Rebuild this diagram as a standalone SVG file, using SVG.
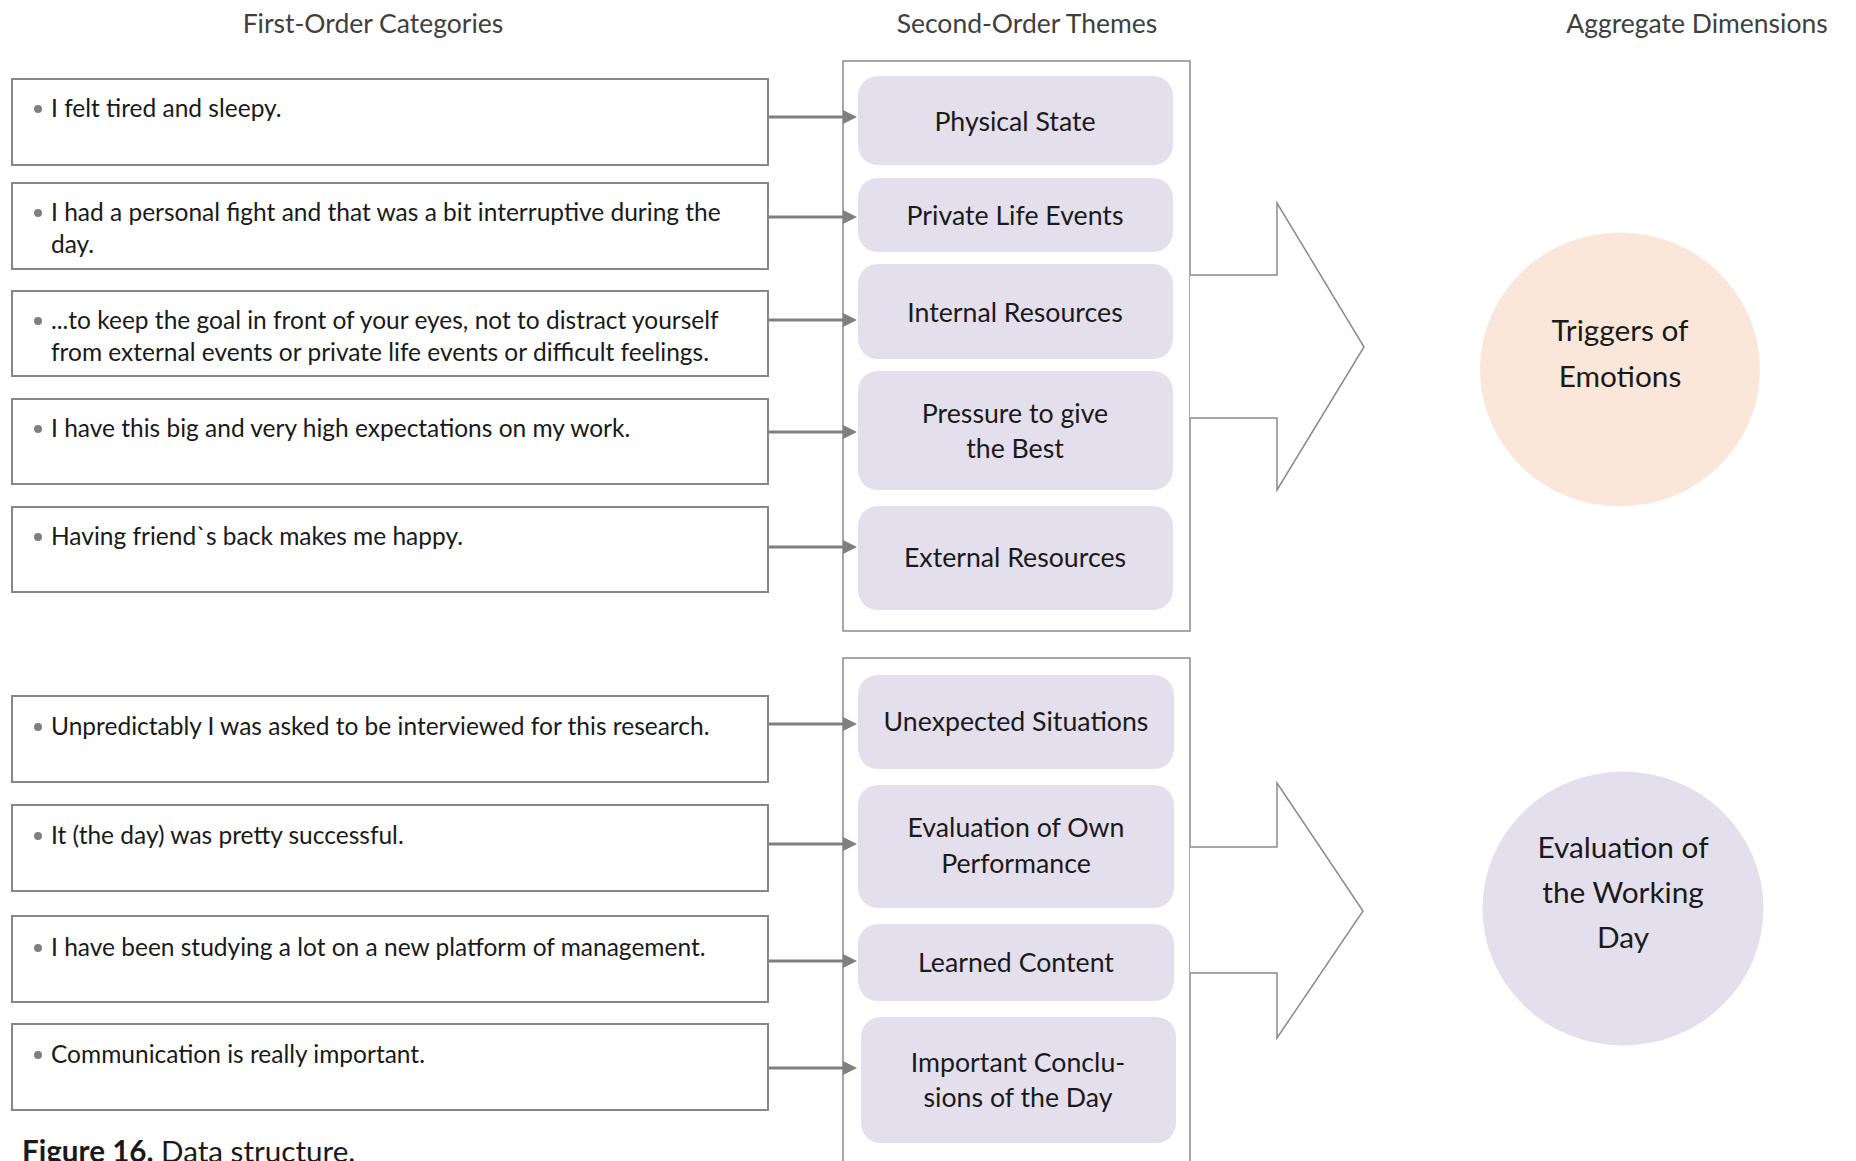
<svg xmlns="http://www.w3.org/2000/svg" width="1856" height="1161" viewBox="0 0 1856 1161">
<defs>
<style>
.t{font-family:Lato,"Open Sans","Liberation Sans",sans-serif;fill:#1a1a1a}
.hd{font-size:26.5px;fill:#404040;text-anchor:middle}
.q{font-size:24.5px}
.th{font-size:26.7px;text-anchor:middle}
.ci{font-size:29.8px;text-anchor:middle}
.box{fill:#fff;stroke:#878787;stroke-width:2}
.frame{fill:#fff;stroke:#8a8a8a;stroke-width:1.5}
.theme{fill:#e4dfec}
.bul{fill:#7f7f7f}
.conn{stroke:#7f7f7f;stroke-width:3;fill:none}
.big{fill:#fff;stroke:#8a8a8a;stroke-width:1.5}
</style>
<marker id="ah" markerUnits="userSpaceOnUse" markerWidth="14" markerHeight="14" refX="1" refY="7" orient="auto">
<path d="M0,0 L14,7 L0,14 z" fill="#7f7f7f"/>
</marker>
</defs>
<rect width="1856" height="1161" fill="#fff"/>

<g id="headers">
<text class="t hd" x="373" y="33">First-Order Categories</text>
<text class="t hd" x="1027" y="33">Second-Order Themes</text>
<text class="t hd" x="1697" y="33">Aggregate Dimensions</text>
</g>

<g id="frame1"><rect class="frame" x="843" y="61" width="347" height="570"/></g>
<g id="frame2"><rect class="frame" x="843" y="658" width="347" height="560"/></g>

<g id="q1"><rect class="box" x="12" y="79" width="756" height="86"/><circle class="bul" cx="38" cy="109" r="4"/><text class="t q" x="51" y="117">I felt tired and sleepy.</text></g>
<g id="q2"><rect class="box" x="12" y="183" width="756" height="86"/><circle class="bul" cx="38" cy="213" r="4"/><text class="t q" x="51" y="221">I had a personal fight and that was a bit interruptive during the</text><text class="t q" x="51" y="253">day.</text></g>
<g id="q3"><rect class="box" x="12" y="291" width="756" height="85"/><circle class="bul" cx="38" cy="321" r="4"/><text class="t q" x="51" y="329">...to keep the goal in front of your eyes, not to distract yourself</text><text class="t q" x="51" y="361">from external events or private life events or difficult feelings.</text></g>
<g id="q4"><rect class="box" x="12" y="399" width="756" height="85"/><circle class="bul" cx="38" cy="429" r="4"/><text class="t q" x="51" y="437">I have this big and very high expectations on my work.</text></g>
<g id="q5"><rect class="box" x="12" y="507" width="756" height="85"/><circle class="bul" cx="38" cy="537" r="4"/><text class="t q" x="51" y="545">Having friend`s back makes me happy.</text></g>
<g id="q6"><rect class="box" x="12" y="696" width="756" height="86"/><circle class="bul" cx="38" cy="727" r="4"/><text class="t q" x="51" y="735">Unpredictably I was asked to be interviewed for this research.</text></g>
<g id="q7"><rect class="box" x="12" y="805" width="756" height="86"/><circle class="bul" cx="38" cy="836" r="4"/><text class="t q" x="51" y="844">It (the day) was pretty successful.</text></g>
<g id="q8"><rect class="box" x="12" y="916" width="756" height="86"/><circle class="bul" cx="38" cy="948" r="4"/><text class="t q" x="51" y="956">I have been studying a lot on a new platform of management.</text></g>
<g id="q9"><rect class="box" x="12" y="1024" width="756" height="86"/><circle class="bul" cx="38" cy="1055" r="4"/><text class="t q" x="51" y="1063">Communication is really important.</text></g>

<g id="th1"><rect class="theme" x="858" y="76" width="315" height="89" rx="20"/><text class="t th" x="1015" y="131">Physical State</text></g>
<g id="th2"><rect class="theme" x="858" y="178" width="315" height="74" rx="20"/><text class="t th" x="1015" y="225">Private Life Events</text></g>
<g id="th3"><rect class="theme" x="858" y="264" width="315" height="95" rx="20"/><text class="t th" x="1015" y="322">Internal Resources</text></g>
<g id="th4"><rect class="theme" x="858" y="371" width="315" height="119" rx="20"/><text class="t th" x="1015" y="423">Pressure to give</text><text class="t th" x="1015" y="458">the Best</text></g>
<g id="th5"><rect class="theme" x="858" y="506" width="315" height="104" rx="20"/><text class="t th" x="1015" y="567">External Resources</text></g>
<g id="th6"><rect class="theme" x="858" y="675" width="316" height="94" rx="20"/><text class="t th" x="1016" y="731">Unexpected Situations</text></g>
<g id="th7"><rect class="theme" x="858" y="785" width="316" height="123" rx="20"/><text class="t th" x="1016" y="837">Evaluation of Own</text><text class="t th" x="1016" y="873">Performance</text></g>
<g id="th8"><rect class="theme" x="858" y="924" width="316" height="77" rx="20"/><text class="t th" x="1016" y="972">Learned Content</text></g>
<g id="th9"><rect class="theme" x="861" y="1017" width="315" height="126" rx="20"/><text class="t th" x="1018" y="1072">Important Conclu-</text><text class="t th" x="1018" y="1107">sions of the Day</text></g>

<g id="agg1"><ellipse cx="1620" cy="369.5" rx="140" ry="137" fill="#fbe7da"/><text class="t ci" x="1620" y="341">Triggers of</text><text class="t ci" x="1620" y="387">Emotions</text></g>
<g id="agg2"><ellipse cx="1623" cy="908.5" rx="140.5" ry="137" fill="#e4dfec"/><text class="t ci" x="1623" y="858">Evaluation of</text><text class="t ci" x="1623" y="903">the Working</text><text class="t ci" x="1623" y="948">Day</text></g>

<g id="connectors">
<line class="conn" x1="769" y1="117" x2="844" y2="117" marker-end="url(#ah)"/>
<line class="conn" x1="769" y1="217" x2="844" y2="217" marker-end="url(#ah)"/>
<line class="conn" x1="769" y1="320" x2="844" y2="320" marker-end="url(#ah)"/>
<line class="conn" x1="769" y1="432" x2="844" y2="432" marker-end="url(#ah)"/>
<line class="conn" x1="769" y1="547" x2="844" y2="547" marker-end="url(#ah)"/>
<line class="conn" x1="769" y1="724" x2="844" y2="724" marker-end="url(#ah)"/>
<line class="conn" x1="769" y1="844" x2="844" y2="844" marker-end="url(#ah)"/>
<line class="conn" x1="769" y1="961" x2="844" y2="961" marker-end="url(#ah)"/>
<line class="conn" x1="769" y1="1068" x2="844" y2="1068" marker-end="url(#ah)"/>
<path class="big" d="M1190,275 H1277 V203 L1364,347 L1277,490 V418 H1190"/>
<path class="big" d="M1190,847 H1277 V783 L1363,911 L1277,1038 V973 H1190"/>
</g>

<g id="caption"><text class="t" x="22" y="1162" font-size="29.6" fill="#000"><tspan font-weight="bold">Figure 16.</tspan> Data structure.</text></g>
</svg>
